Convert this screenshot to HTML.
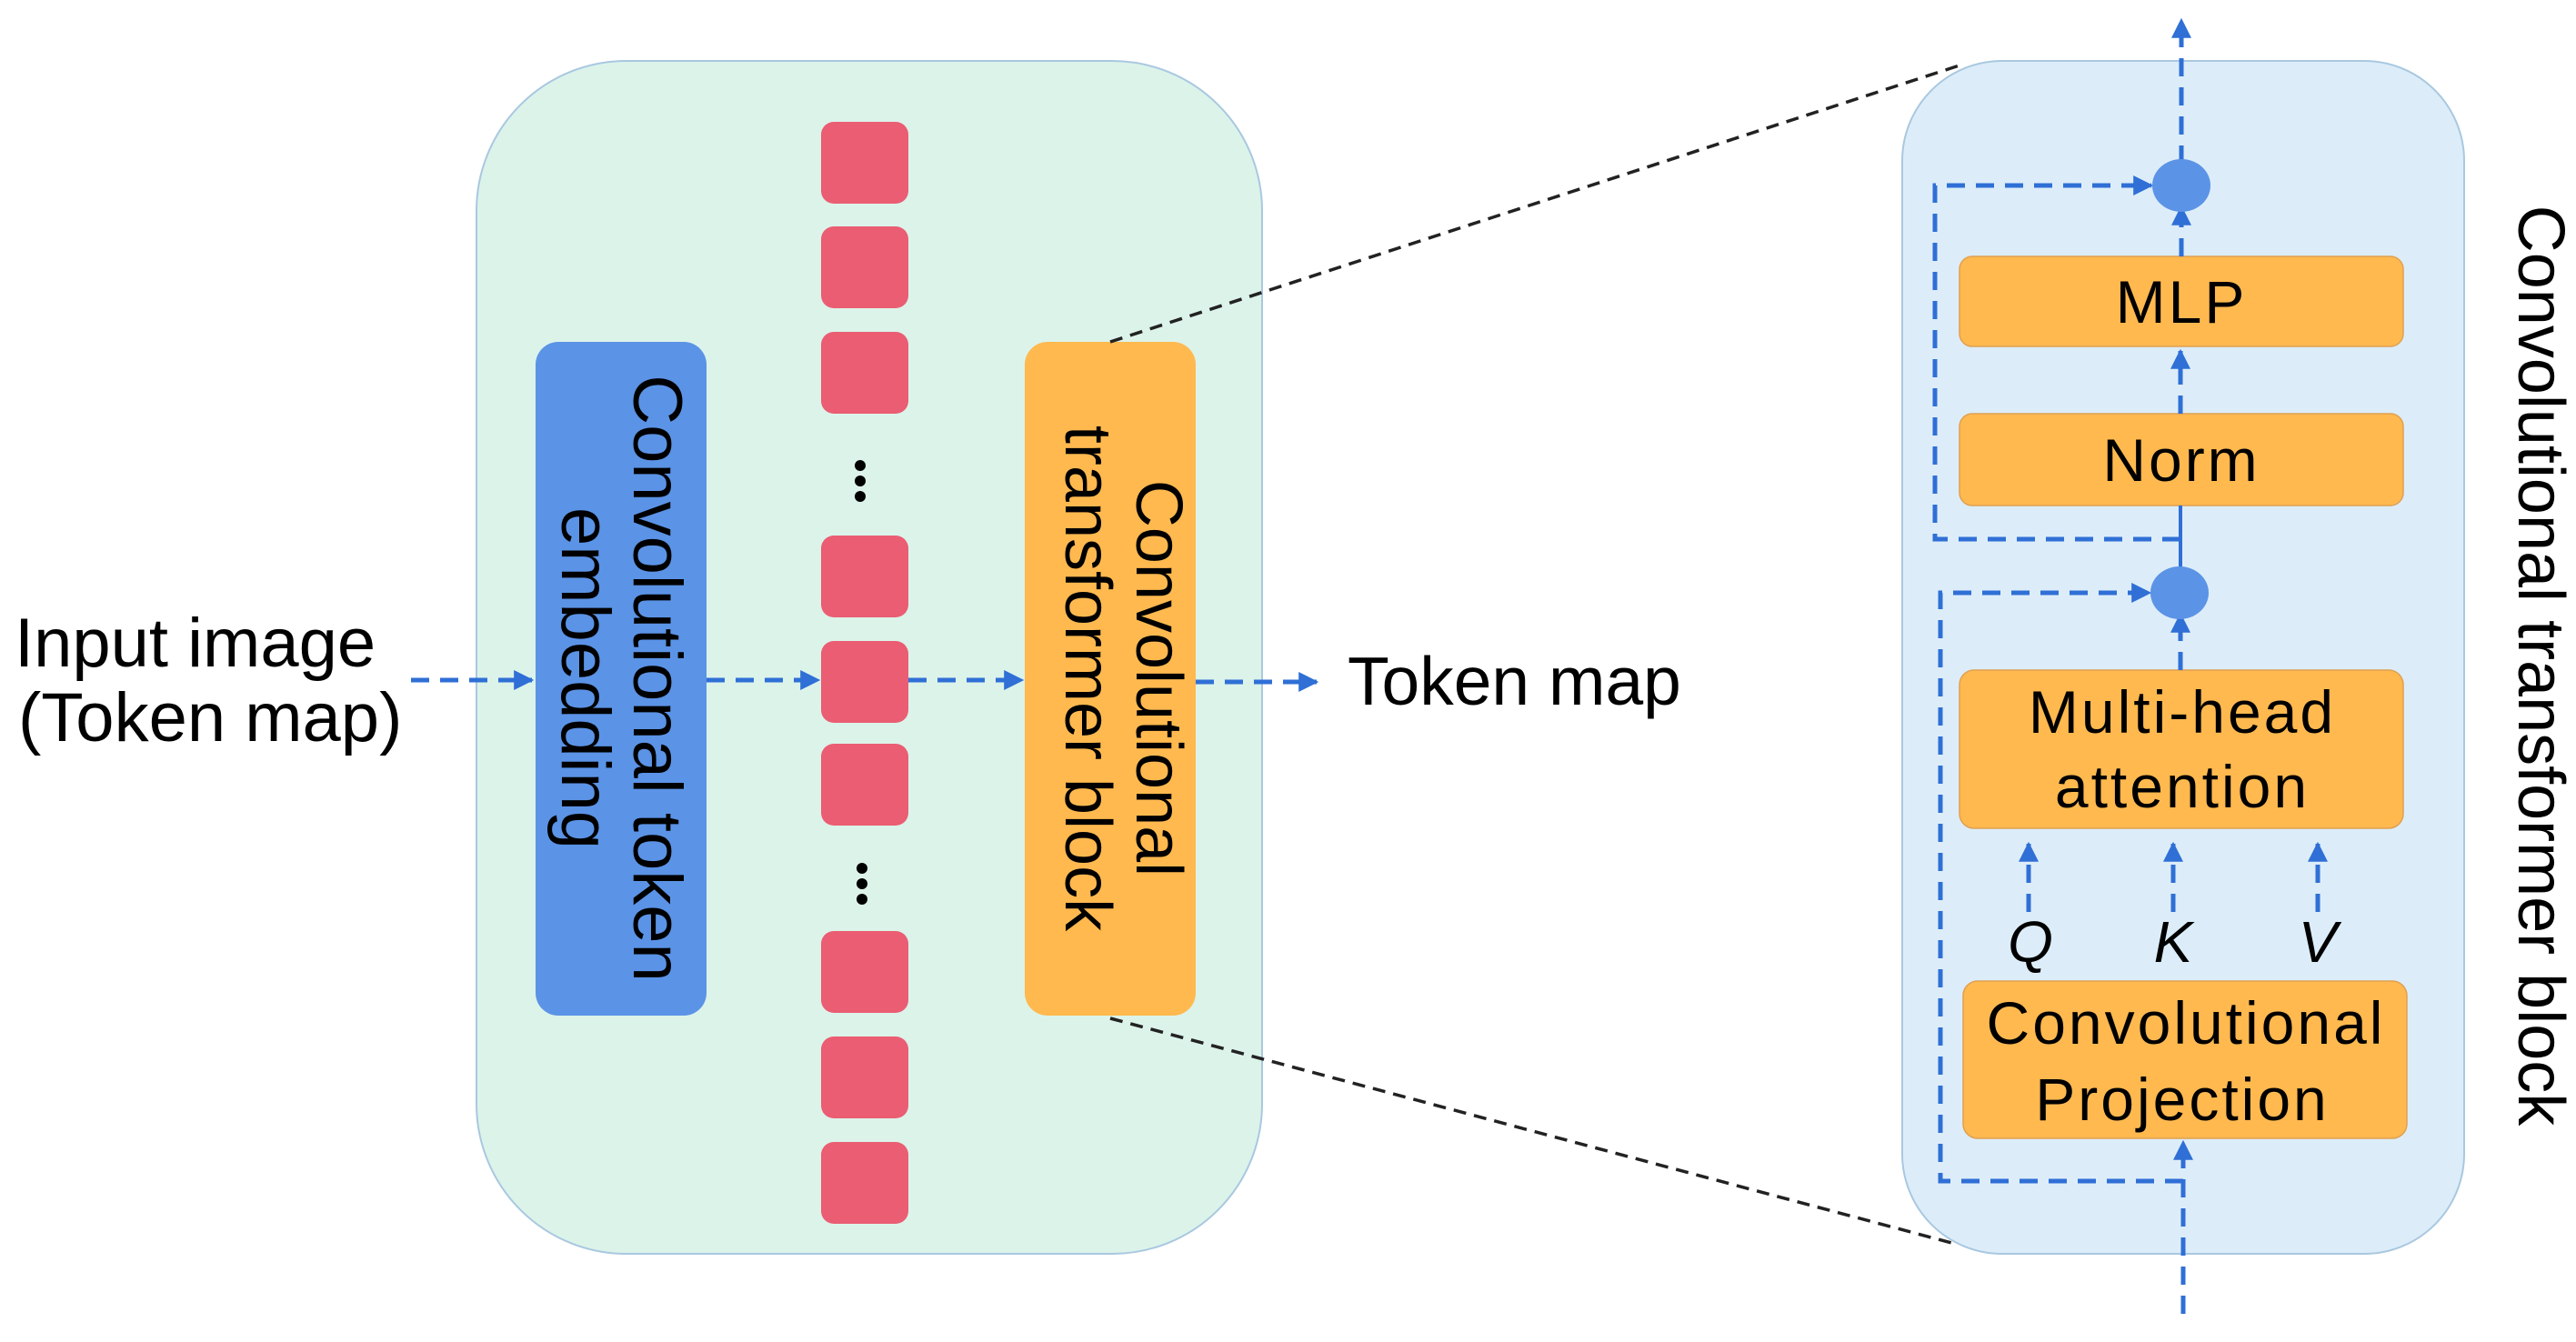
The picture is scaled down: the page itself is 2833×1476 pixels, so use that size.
<!DOCTYPE html>
<html><head><meta charset="utf-8"><style>
html,body{margin:0;padding:0;background:#fff}
svg{display:block}
text{font-family:"Liberation Sans",sans-serif;fill:#000}
</style></head><body>
<svg width="2833" height="1476" viewBox="0 0 2833 1476" xmlns="http://www.w3.org/2000/svg">
<defs>
<marker id="a" viewBox="0 0 10 10" refX="9" refY="5" markerWidth="22" markerHeight="22" markerUnits="userSpaceOnUse" orient="auto"><path d="M0,0 L10,5 L0,10 z" fill="#2f6fd6"/></marker>
</defs>
<rect x="524" y="67" width="864" height="1312" rx="165" fill="#dcf3ea" stroke="#a9c8e0" stroke-width="2"/>
<rect x="589" y="376" width="188" height="741" rx="25" fill="#5b93e6"/>
<text transform="translate(697,746) rotate(90)" text-anchor="middle" font-size="76">Convolutional token</text>
<text transform="translate(618,746) rotate(90)" text-anchor="middle" font-size="76">embedding</text>
<g fill="#ea5d72">
<rect x="903" y="134" width="96" height="90" rx="14"/>
<rect x="903" y="249" width="96" height="90" rx="14"/>
<rect x="903" y="365" width="96" height="90" rx="14"/>
<rect x="903" y="589" width="96" height="90" rx="14"/>
<rect x="903" y="705" width="96" height="90" rx="14"/>
<rect x="903" y="818" width="96" height="90" rx="14"/>
<rect x="903" y="1024" width="96" height="90" rx="14"/>
<rect x="903" y="1140" width="96" height="90" rx="14"/>
<rect x="903" y="1256" width="96" height="90" rx="14"/>
</g>
<g fill="#000"><circle cx="946" cy="512" r="6"/><circle cx="946" cy="529" r="6"/><circle cx="946" cy="546" r="6"/>
<circle cx="948" cy="955" r="6"/><circle cx="948" cy="972" r="6"/><circle cx="948" cy="989" r="6"/></g>
<rect x="1127" y="376" width="188" height="741" rx="25" fill="#ffb94f"/>
<text transform="translate(1250,746) rotate(90)" text-anchor="middle" font-size="72">Convolutional</text>
<text transform="translate(1172,746) rotate(90)" text-anchor="middle" font-size="72">transformer block</text>
<text x="16" y="733" font-size="76">Input image</text>
<text x="20" y="815" font-size="76">(Token map)</text>
<text x="1482" y="775" font-size="75">Token map</text>
<g stroke="#2f6fd6" stroke-width="5" stroke-dasharray="20,12" fill="none">
<line x1="452" y1="748" x2="585" y2="748" marker-end="url(#a)"/>
<line x1="777" y1="748" x2="900" y2="748" marker-end="url(#a)"/>
<line x1="999" y1="748" x2="1124" y2="748" marker-end="url(#a)"/>
<line x1="1315" y1="750" x2="1448" y2="750" marker-end="url(#a)"/>
</g>
<g stroke="#222" stroke-width="3.5" stroke-dasharray="14,9" fill="none">
<line x1="1221" y1="376" x2="2161" y2="70"/>
<line x1="1221" y1="1120" x2="2150" y2="1368"/>
</g>
<rect x="2092" y="67" width="618" height="1312" rx="110" fill="#dcedf9" stroke="#a9c8e0" stroke-width="2"/>
<g fill="#ffb94f" stroke="#e0a050" stroke-width="1.5">
<rect x="2155" y="282" width="488" height="99" rx="14"/>
<rect x="2155" y="455" width="488" height="101" rx="14"/>
<rect x="2155" y="737" width="488" height="174" rx="16"/>
<rect x="2159" y="1079" width="488" height="173" rx="16"/>
</g>
<g font-size="66" text-anchor="middle" letter-spacing="3">
<text x="2399" y="355">MLP</text>
<text x="2399" y="529">Norm</text>
<text x="2400" y="806">Multi-head</text>
<text x="2400" y="888">attention</text>
<text x="2404" y="1148">Convolutional</text>
<text x="2400" y="1232">Projection</text>
</g>
<g font-size="64" font-style="italic" text-anchor="middle">
<text x="2233" y="1058">Q</text><text x="2390" y="1058">K</text><text x="2549" y="1058">V</text>
</g>
<text transform="translate(2770,732) rotate(90)" text-anchor="middle" font-size="72">Convolutional transformer block</text>
<g stroke="#2f6fd6" stroke-width="5" stroke-dasharray="20,12" fill="none">
<line x1="2401" y1="1445" x2="2401" y2="1256" marker-end="url(#a)"/>
<line x1="2398" y1="737" x2="2398" y2="676" marker-end="url(#a)"/>
<line x1="2398" y1="455" x2="2398" y2="386" marker-end="url(#a)"/>
<line x1="2399" y1="282" x2="2399" y2="228" marker-end="url(#a)"/>
<line x1="2399" y1="180" x2="2399" y2="22" marker-end="url(#a)"/>
<polyline points="2401,1299 2134,1299 2134,652 2364,652" marker-end="url(#a)"/>
<polyline points="2398,593 2128,593 2128,204 2366,204" marker-end="url(#a)"/>
<line x1="2231" y1="1003" x2="2231" y2="928" marker-end="url(#a)"/>
<line x1="2390" y1="1003" x2="2390" y2="928" marker-end="url(#a)"/>
<line x1="2549" y1="1003" x2="2549" y2="928" marker-end="url(#a)"/>
</g>
<line x1="2398" y1="556" x2="2398" y2="625" stroke="#2f6fd6" stroke-width="4"/>
<ellipse cx="2399" cy="204" rx="32" ry="29" fill="#5b93e6"/>
<ellipse cx="2397" cy="652" rx="32" ry="29" fill="#5b93e6"/>
</svg>
</body></html>
